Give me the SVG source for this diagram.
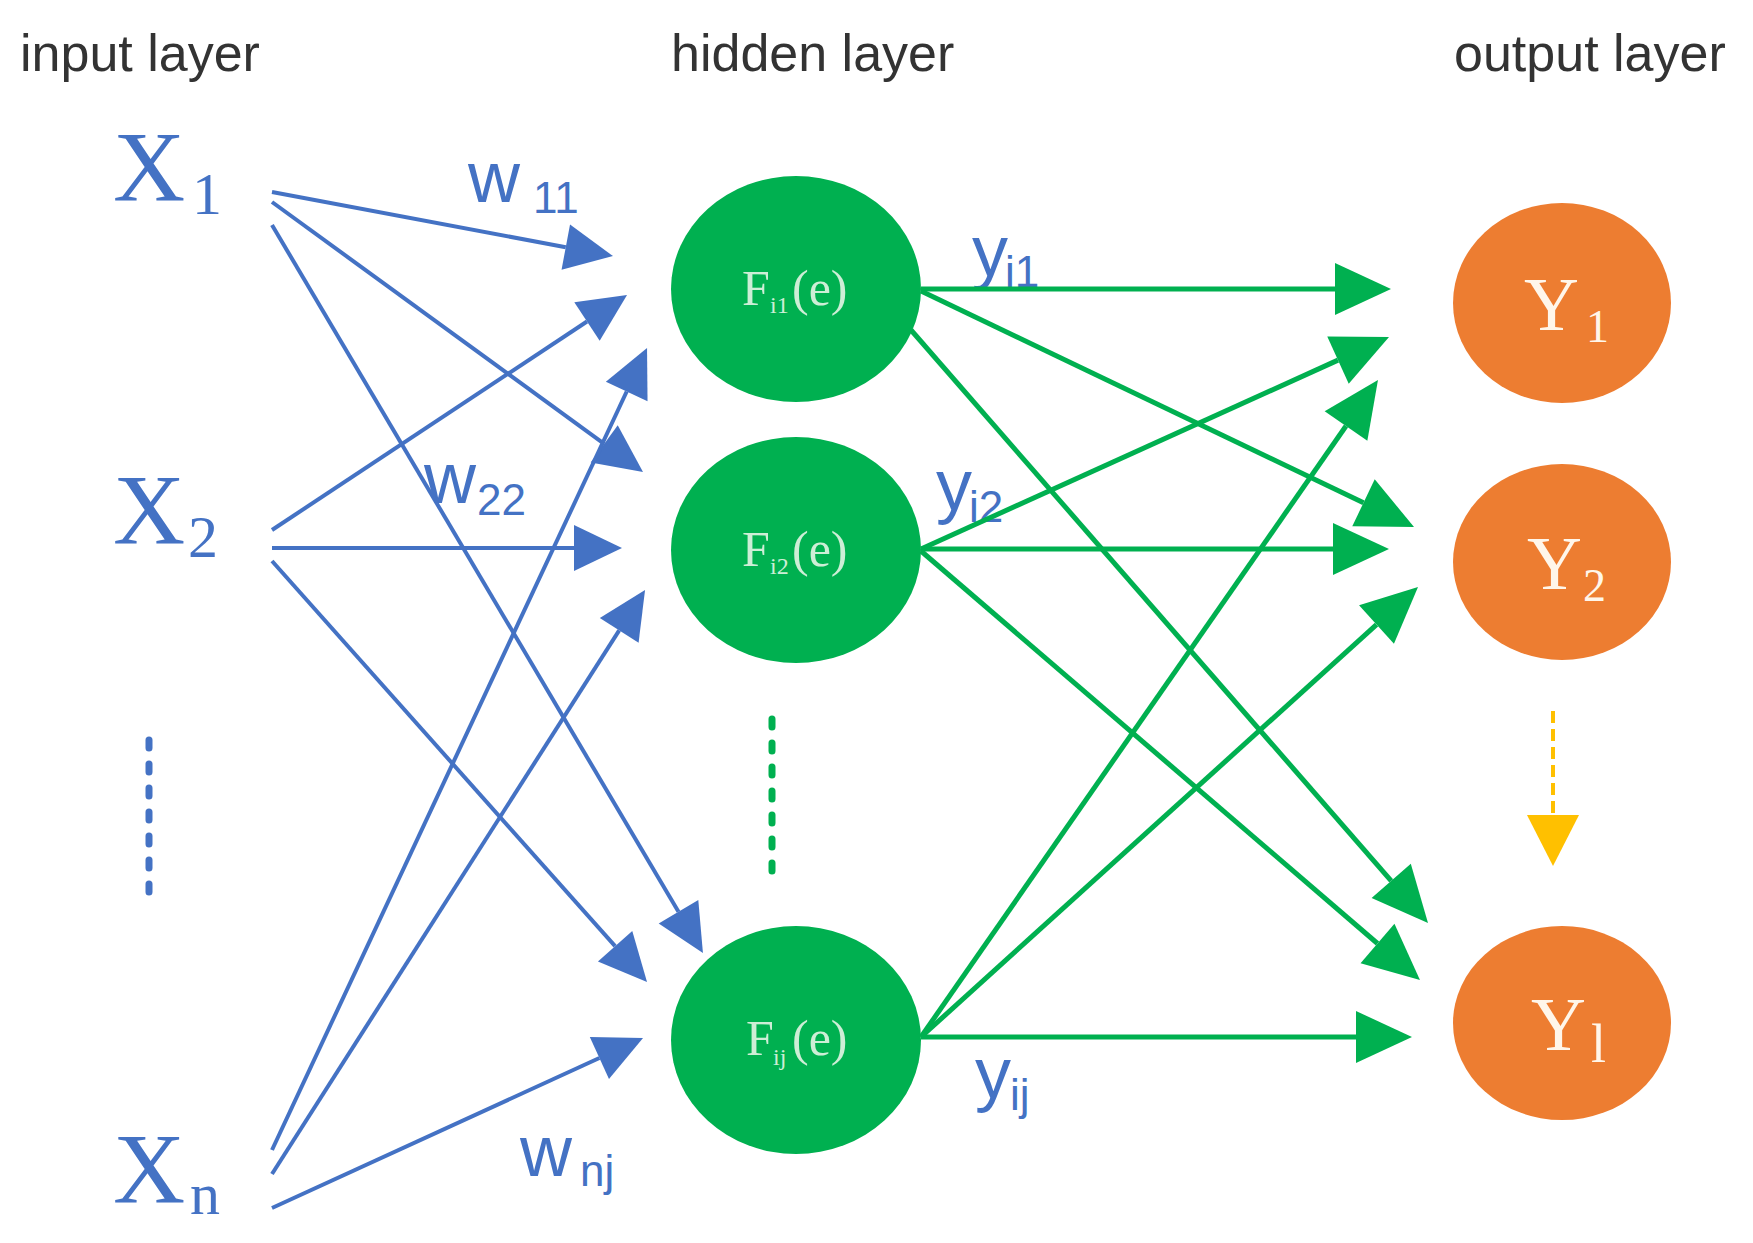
<svg xmlns="http://www.w3.org/2000/svg" width="1753" height="1243" viewBox="0 0 1753 1243">
<defs>
<style>
.hdr{font-family:"Liberation Sans",Arial,sans-serif;font-size:52px;fill:#333333}
.xin{font-family:"Liberation Serif","Times New Roman",serif;font-size:100px;fill:#4472C4}
.xsub{font-family:"Liberation Serif","Times New Roman",serif;font-size:60px;fill:#4472C4}
.lbl{font-family:"Liberation Sans",Arial,sans-serif;font-size:72px;fill:#4472C4}
.lsub{font-family:"Liberation Sans",Arial,sans-serif;font-size:44px;fill:#4472C4}
.ft{font-family:"Liberation Serif","Times New Roman",serif;font-size:50px;fill:#cdeed6}
.fsub{font-family:"Liberation Serif","Times New Roman",serif;font-size:24px;fill:#cdeed6}
.yt{font-family:"Liberation Serif","Times New Roman",serif;font-size:76px;fill:#fff6ea}
.ysub{font-family:"Liberation Serif","Times New Roman",serif;font-size:46px;fill:#fff6ea}
.hid{fill:#00B050}
.out{fill:#ED7D31}
.b{stroke:#4472C4;stroke-width:4;fill:none;marker-end:url(#ab)}
.g{stroke:#00B050;stroke-width:5;fill:none;marker-end:url(#ag)}
</style>
<marker id="ab" markerUnits="userSpaceOnUse" markerWidth="48" markerHeight="46" refX="0" refY="23" orient="auto" overflow="visible">
<path d="M0,0 L48,23 L0,46 Z" fill="#4472C4"/>
</marker>
<marker id="ag" markerUnits="userSpaceOnUse" markerWidth="56" markerHeight="52" refX="0" refY="26" orient="auto" overflow="visible">
<path d="M0,0 L56,26 L0,52 Z" fill="#00B050"/>
</marker>
</defs>
<rect width="1753" height="1243" fill="#ffffff"/>

<g id="headers">
<text class="hdr" x="20" y="71">input layer</text>
<text class="hdr" x="671" y="71">hidden layer</text>
<text class="hdr" x="1454" y="71">output layer</text>
</g>

<g id="edge-labels">
<text class="lbl" x="468" y="202">w</text><text class="lsub" x="533" y="213">11</text>
<text class="lbl" x="424" y="503">w</text><text class="lsub" x="477" y="515">22</text>
<text class="lbl" x="520" y="1176">w</text><text class="lsub" x="580" y="1186">nj</text>
<text class="lbl" x="972" y="276">y</text><text class="lsub" x="1005" y="287">i1</text>
<text class="lbl" x="936" y="510">y</text><text class="lsub" x="969" y="522">i2</text>
<text class="lbl" x="975" y="1098">y</text><text class="lsub" x="1010" y="1110">ij</text>
</g>

<g id="connectors">
<line class="b" x1="272" y1="192" x2="565.8" y2="247.2"/>
<line class="b" x1="272" y1="202" x2="604.2" y2="443.8"/>
<line class="b" x1="272" y1="225" x2="678.5" y2="911.7"/>
<line class="b" x1="272" y1="530" x2="587" y2="321.5"/>
<line class="b" x1="272" y1="548" x2="574" y2="548"/>
<line class="b" x1="272" y1="561" x2="615.1" y2="946.2"/>
<line class="b" x1="272" y1="1150" x2="626.7" y2="391.5"/>
<line class="b" x1="272" y1="1174" x2="619.2" y2="630.4"/>
<line class="b" x1="272" y1="1208" x2="599.4" y2="1058"/>

<line class="g" x1="921" y1="289" x2="1335" y2="289"/>
<line class="g" x1="921" y1="291" x2="1363.5" y2="502.8"/>
<line class="g" x1="911" y1="330" x2="1391.2" y2="880.8"/>
<line class="g" x1="921" y1="549" x2="1338" y2="360.1"/>
<line class="g" x1="921" y1="549" x2="1333" y2="549"/>
<line class="g" x1="921" y1="551" x2="1377.5" y2="943.5"/>
<line class="g" x1="921" y1="1037" x2="1346" y2="426"/>
<line class="g" x1="921" y1="1037" x2="1376.5" y2="624.6"/>
<line class="g" x1="921" y1="1037" x2="1356" y2="1037"/>

<g id="y-continuation">
<line x1="1553" y1="711" x2="1553" y2="815" stroke="#FFC000" stroke-width="4" stroke-dasharray="12 6"/>
<path d="M1527,815 L1579,815 L1553,866 Z" fill="#FFC000"/>
</g>
</g>

<g id="in-x1">
<text class="xin" x="113" y="200">X</text><text class="xsub" x="192" y="214">1</text>
</g>
<g id="in-x2">
<text class="xin" x="113" y="543">X</text><text class="xsub" x="188" y="557">2</text>
</g>
<g id="in-dots">
<line x1="149" y1="740" x2="149" y2="892" stroke="#4472C4" stroke-width="7" stroke-linecap="round" stroke-dasharray="8 16"/>
</g>
<g id="in-xn">
<text class="xin" x="113" y="1202">X</text><text class="xsub" x="190" y="1214">n</text>
</g>

<g id="hid-f1">
<ellipse class="hid" cx="796" cy="289" rx="125" ry="113"/>
<text class="ft" y="305"><tspan x="742">F</tspan><tspan class="fsub" x="770" y="313">i1</tspan><tspan x="792" y="305">(e)</tspan></text>
</g>
<g id="hid-f2">
<ellipse class="hid" cx="796" cy="550" rx="125" ry="113"/>
<text class="ft" y="566"><tspan x="742">F</tspan><tspan class="fsub" x="770" y="574">i2</tspan><tspan x="792" y="566">(e)</tspan></text>
</g>
<g id="hid-dots">
<line x1="772" y1="719" x2="772" y2="871" stroke="#00B050" stroke-width="7" stroke-linecap="round" stroke-dasharray="8 16"/>
</g>
<g id="hid-fj">
<ellipse class="hid" cx="796" cy="1040" rx="125" ry="114"/>
<text class="ft" y="1055"><tspan x="746">F</tspan><tspan class="fsub" x="773" y="1065">ij</tspan><tspan x="792" y="1055">(e)</tspan></text>
</g>

<g id="out-y1">
<ellipse class="out" cx="1562" cy="303" rx="109" ry="100"/>
<text class="yt" x="1524" y="330">Y</text><text class="ysub" x="1586" y="342">1</text>
</g>
<g id="out-y2">
<ellipse class="out" cx="1562" cy="562" rx="109" ry="98"/>
<text class="yt" x="1527" y="589">Y</text><text class="ysub" x="1583" y="601">2</text>
</g>
<g id="out-yl">
<ellipse class="out" cx="1562" cy="1023" rx="109" ry="97"/>
<text class="yt" x="1531" y="1050">Y</text><text class="ysub" x="1591" y="1062" style="font-size:54px">l</text>
</g>
</svg>
